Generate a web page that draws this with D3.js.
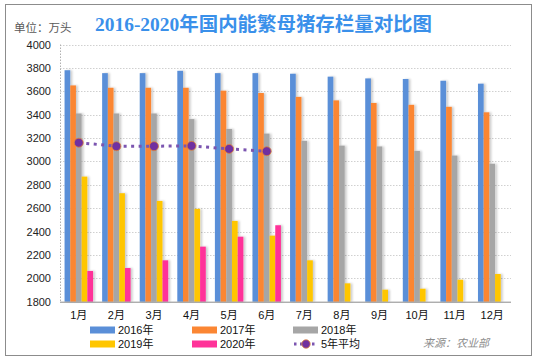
<!DOCTYPE html>
<html><head><meta charset="utf-8">
<script src="https://cdn.jsdelivr.net/npm/d3@7/dist/d3.min.js"></script>
<style>
body{margin:0;background:#fff;}
svg{display:block;font-family:"Liberation Sans","Noto Sans CJK SC",sans-serif;}
</style></head>
<body><svg id="c" width="535" height="360"></svg>
<script>
const months = ["1月","2月","3月","4月","5月","6月","7月","8月","9月","10月","11月","12月"];
const seriesNames = ["2016年","2017年","2018年","2019年","2020年"];
const s2016 = [3780,3755,3755,3775,3755,3755,3750,3725,3710,3705,3690,3665];
const s2017 = [3650,3630,3630,3630,3605,3585,3552,3522,3500,3484,3467,3420];
const s2018 = [3410,3410,3410,3362,3278,3238,3176,3135,3128,3090,3050,2980];
const s2019 = [2870,2728,2662,2594,2491,2365,2154,1957,1903,1911,1988,2037];
const s2020 = [2063,2088,2154,2271,2356,2454];
const avg5 = [3160,3130,3130,3133,3107,3087];
const yTicks = [1800,2000,2200,2400,2600,2800,3000,3200,3400,3600,3800,4000];
const colors = ["#5a8fd8","#fb8633","#a6a6a6","#ffc600","#ff3399"];

const allSeries = [s2016,s2017,s2018,s2019,s2020];
const svg = d3.select("#c");

// frame
svg.append("rect").attr("x",5.5).attr("y",4.5).attr("width",526).attr("height",351)
  .attr("fill","#fff").attr("stroke","#8c8c8c").attr("stroke-width",1);

const L=60, R=511, T=44.5, B=301.7;
const y = d3.scaleLinear().domain([1800,4000]).range([B,T]);
const x0 = d3.scaleBand().domain(months).range([L,R]).padding(0);
const x1 = d3.scaleBand().domain(seriesNames).range([0,x0.bandwidth()]).paddingInner(0).paddingOuter(0.8);

// gridlines
svg.append("g").selectAll("line").data(yTicks.filter(t=>t>1800)).join("line")
  .attr("x1",L).attr("x2",R).attr("y1",d=>Math.round(y(d))+0.5).attr("y2",d=>Math.round(y(d))+0.5)
  .attr("stroke","#d0d0d0").attr("stroke-dasharray","1.5,1.5");
// left dotted axis
svg.append("line").attr("x1",L+0.5).attr("x2",L+0.5).attr("y1",T).attr("y2",B)
  .attr("stroke","#b0b0b0").attr("stroke-dasharray","1.5,1.5");

// y tick labels
const yAxis = d3.axisLeft(y).tickValues(yTicks).tickFormat(d3.format("d")).tickSize(0).tickPadding(8);
const ya = svg.append("g").attr("transform",`translate(${L-1},0)`).call(yAxis);
ya.select(".domain").remove();
ya.selectAll("text").attr("fill","#222")
  .style("font-size","11px").style("font-family","Liberation Sans, sans-serif");

// shadow filter
const defs = svg.append("defs");
const f = defs.append("filter").attr("id","sh").attr("x","-50%").attr("y","-10%").attr("width","200%").attr("height","120%");
f.append("feGaussianBlur").attr("in","SourceAlpha").attr("stdDeviation",0.8).attr("result","b");
f.append("feOffset").attr("in","b").attr("dx",1.5).attr("dy",0).attr("result","o");
f.append("feComponentTransfer").attr("in","o").attr("result","o2")
  .append("feFuncA").attr("type","linear").attr("slope",0.2);
const fm = f.append("feMerge"); fm.append("feMergeNode").attr("in","o2"); fm.append("feMergeNode").attr("in","SourceGraphic");

// bars
const bars = svg.append("g");
allSeries.forEach((arr,si)=>{
  bars.append("g").attr("filter","url(#sh)").selectAll("rect").data(arr).join("rect")
    .attr("x",(d,i)=>x0(months[i])+x1(seriesNames[si]))
    .attr("width",x1.bandwidth())
    .attr("y",d=>y(d)).attr("height",d=>B-y(d))
    .attr("fill",colors[si]);
});

// x axis line
svg.append("line").attr("x1",L).attr("x2",R).attr("y1",B+0.5).attr("y2",B+0.5)
  .attr("stroke","#8a8a8a").attr("stroke-width",1);
// month labels
const xAxis = d3.axisBottom(x0).tickSize(0).tickPadding(10);
const xa = svg.append("g").attr("transform",`translate(0,${B})`).call(xAxis);
xa.select(".domain").remove();
xa.selectAll("text").attr("fill","#111")
  .style("font-size","11px").style("font-family","Liberation Sans, Noto Sans CJK SC, sans-serif");

// 5-year avg line
const cx = (d,i)=>x0(months[i])+x0.bandwidth()/2;
const line = d3.line().x(cx).y(d=>y(d));
svg.append("path").datum(avg5).attr("d",line).attr("fill","none")
  .attr("stroke","#7b55b0").attr("stroke-width",3).attr("stroke-dasharray","3,4.5");
svg.append("g").selectAll("circle").data(avg5).join("circle")
  .attr("cx",cx).attr("cy",d=>y(d)).attr("r",4.5)
  .attr("fill","#7030a0").attr("stroke","#e0843a").attr("stroke-width",0.8);

// title
svg.append("text").attr("x",95).attr("y",31).attr("fill","#3a90ea")
  .style("font-size","19px").style("font-weight","bold")
  .style("font-family","Liberation Serif, Noto Sans CJK SC, serif")
  .attr("textLength",337).attr("lengthAdjust","spacingAndGlyphs")
  .text("2016-2020年国内能繁母猪存栏量对比图");
svg.append("text").attr("x",14).attr("y",32).attr("fill","#595959")
  .style("font-size","11.5px").style("font-family","Noto Sans CJK SC, sans-serif").text("单位：万头");

// legend
const legendItems = [
  {name:"2016年",c:colors[0],x:90,y:330},
  {name:"2017年",c:colors[1],x:192,y:330},
  {name:"2018年",c:colors[2],x:293,y:330},
  {name:"2019年",c:colors[3],x:90,y:344},
  {name:"2020年",c:colors[4],x:192,y:344}
];
const lg = svg.append("g");
legendItems.forEach(it=>{
  lg.append("rect").attr("x",it.x).attr("y",it.y-3.5).attr("width",25).attr("height",7).attr("fill",it.c);
  lg.append("text").attr("x",it.x+28).attr("y",it.y+4).attr("fill","#111").style("font-size","11px").text(it.name);
});
lg.append("line").attr("x1",294).attr("x2",318).attr("y1",344).attr("y2",344)
  .attr("stroke","#7b55b0").attr("stroke-width",3).attr("stroke-dasharray","2.5,3.5");
lg.append("circle").attr("cx",306).attr("cy",344).attr("r",4.2).attr("fill","#7030a0").attr("stroke","#e0843a").attr("stroke-width",0.8);
lg.append("text").attr("x",321).attr("y",348).attr("fill","#111").style("font-size","11px").text("5年平均");
svg.append("text").attr("x",423).attr("y",347).attr("fill","#8c8c8c")
  .style("font-size","11px").style("font-style","italic").style("font-family","Noto Sans CJK SC, sans-serif").text("来源：农业部");
</script></body></html>
